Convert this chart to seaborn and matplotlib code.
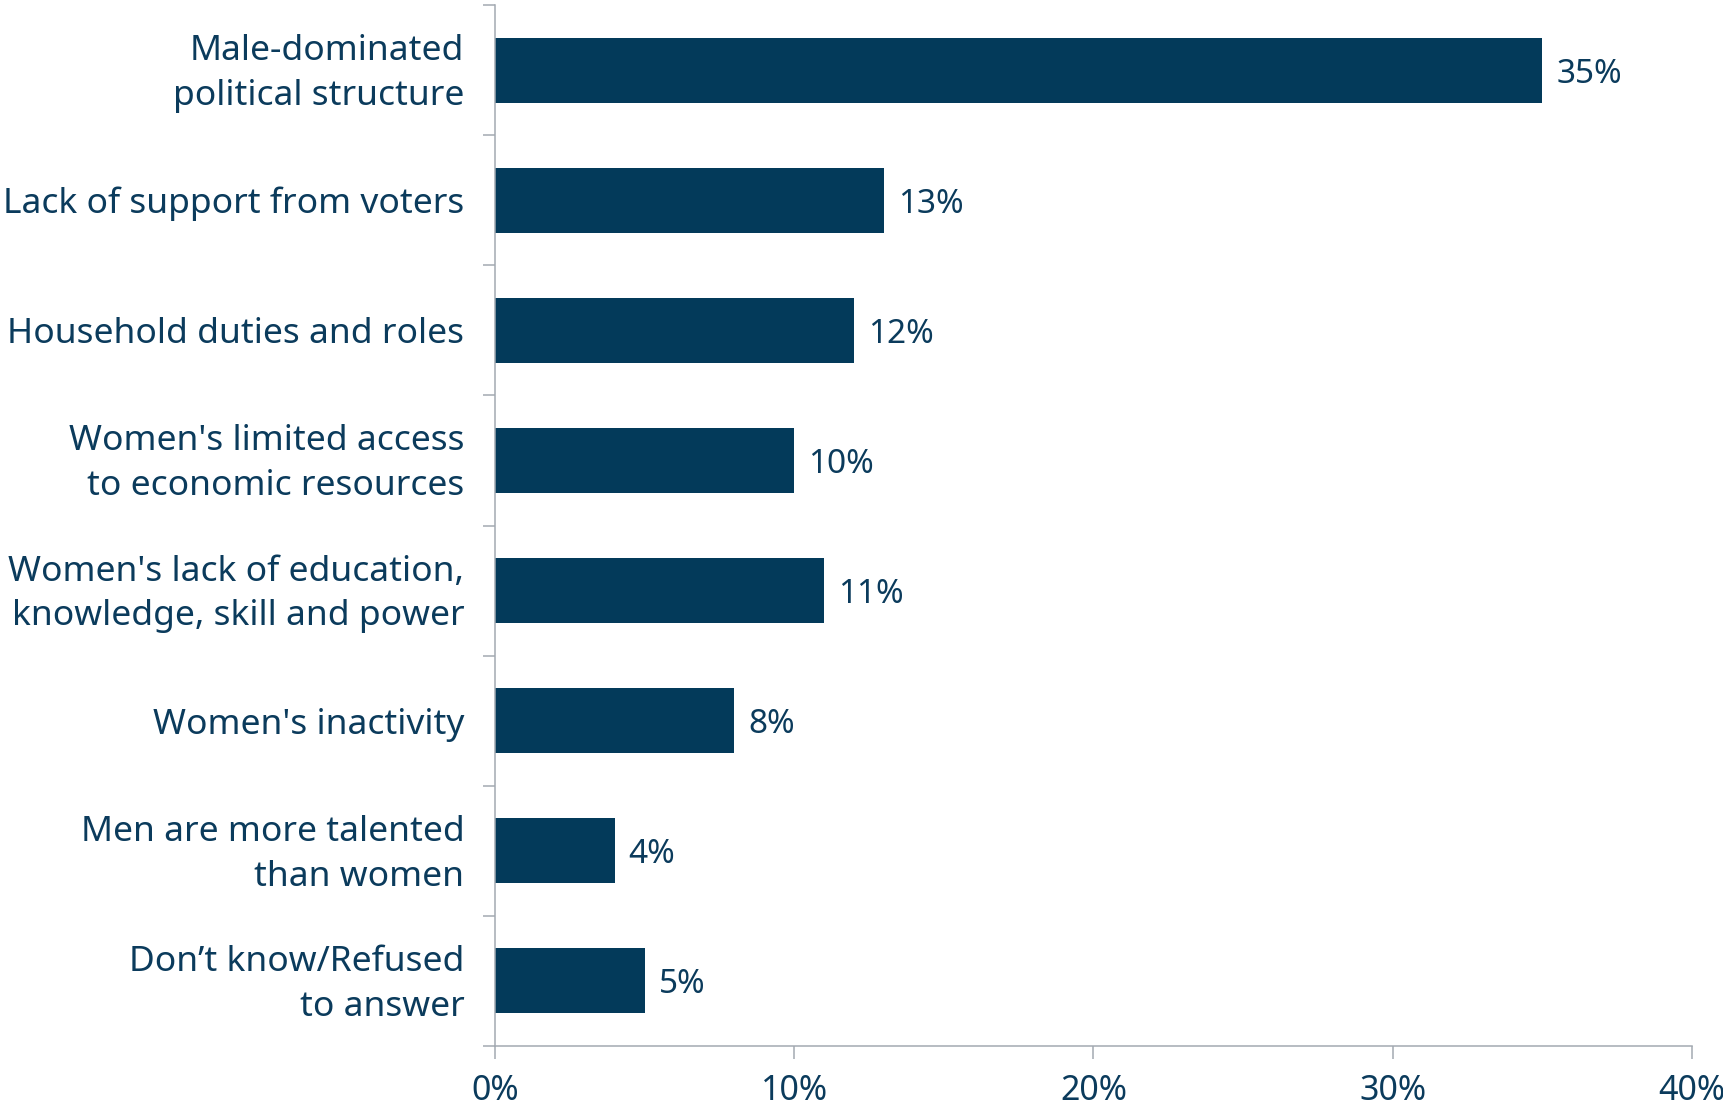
import matplotlib
matplotlib.use("Agg")
import matplotlib.pyplot as plt
from matplotlib.ticker import FixedLocator, PercentFormatter
from matplotlib.transforms import ScaledTranslation
import seaborn as sns
import pandas as pd

categories = [
    "Male-dominated\npolitical structure",
    "Lack of support from voters",
    "Household duties and roles",
    "Women's limited access\nto economic resources",
    "Women's lack of education,\nknowledge, skill and power",
    "Women's inactivity",
    "Men are more talented\nthan women",
    "Don\u2019t know/Refused\nto answer",
]
values = [35, 13, 12, 10, 11, 8, 4, 5]
x_ticks = [0, 10, 20, 30, 40]

bar_color = "#033A5A"
text_color = "#0B3B5C"
axis_color = "#A3A9B1"

sns.set_style("white")
plt.rcParams["font.family"] = ["Noto Sans", "DejaVu Sans"]

df = pd.DataFrame({"reason": categories, "share": values})

fig = plt.figure(figsize=(17.24, 11.11), dpi=100)
ax = fig.add_axes([0.2871, 0.0585, 0.6943, 0.937])

sns.barplot(data=df, x="share", y="reason", orient="h", color=bar_color,
            saturation=1, width=0.5, ax=ax, edgecolor="none")

ax.set_xlim(0, 40)
ax.set_ylim(len(categories) - 0.5, -0.5)
ax.set_xticks(x_ticks)
ax.xaxis.set_major_formatter(PercentFormatter(decimals=0))
ax.yaxis.set_minor_locator(FixedLocator([i - 0.5 for i in range(len(categories) + 1)]))

ax.tick_params(axis="y", which="major", length=0, pad=22, labelsize=25.5, labelcolor=text_color)
ax.tick_params(axis="y", which="minor", length=9, width=1.1, color=axis_color, left=True)
ax.tick_params(axis="x", which="major", length=9, width=1.1, color=axis_color, bottom=True,
               pad=11, labelsize=24.5, labelcolor=text_color)

# two-line labels sit a touch higher in the original
lift = ScaledTranslation(0, 0.06, fig.dpi_scale_trans)
for lbl in ax.get_yticklabels():
    lbl.set_horizontalalignment("right")
    lbl.set_verticalalignment("center_baseline")
    lbl.set_linespacing(1.42)
    if "\n" in lbl.get_text():
        lbl.set_transform(lbl.get_transform() + lift)

sns.despine(ax=ax)
for side in ("left", "bottom"):
    ax.spines[side].set_color(axis_color)
    ax.spines[side].set_linewidth(1.1)

texts = ax.bar_label(ax.containers[0], labels=[f"{v}%" for v in values], padding=10,
                     fontsize=24, color=text_color)
for t in texts:
    t.set_verticalalignment("center_baseline")

ax.set_xlabel("")
ax.set_ylabel("")

fig.savefig("out.png", dpi=100, facecolor="#FFFFFF")
